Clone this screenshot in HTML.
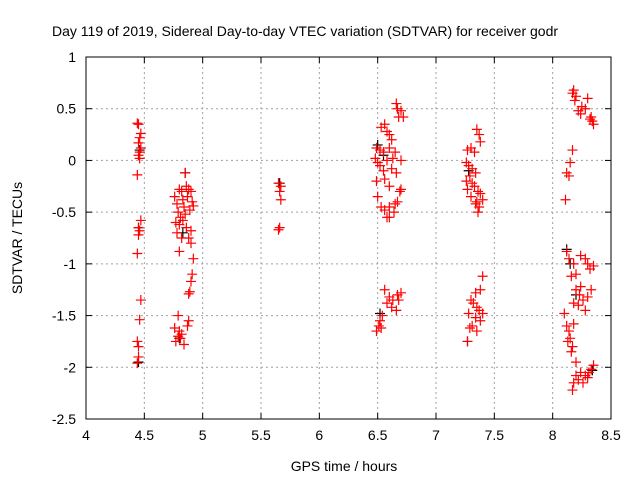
<!DOCTYPE html>
<html><head><meta charset="utf-8"><style>
body{margin:0;background:#fff}
svg text{font-family:"Liberation Sans",sans-serif;font-size:14px;fill:#000}
</style></head><body>
<svg id="chart" width="640" height="480">
<rect width="640" height="480" fill="#fff"/>
<text x="52" y="36">Day 119 of 2019, Sidereal Day-to-day VTEC variation (SDTVAR) for receiver godr</text>
<text x="344" y="471" text-anchor="middle">GPS time / hours</text>
<text transform="translate(22,238) rotate(-90)" text-anchor="middle">SDTVAR / TECUs</text>
<g id="grid"></g><g id="ticks"></g><g id="marks"></g>
<rect x="86" y="57" width="525" height="362" fill="none" stroke="#000" stroke-width="1"/>
</svg>
<script>
const xTicks=[4,4.5,5,5.5,6,6.5,7,7.5,8,8.5];
const yTicks=[1,0.5,0,-0.5,-1,-1.5,-2,-2.5];
const redX=[4.44,4.45,4.47,4.46,4.45,4.47,4.46,4.45,4.46,4.44,4.47,4.45,4.46,4.45,4.44,4.47,4.46,4.44,4.45,4.44,4.45,
4.85,4.8,4.76,4.82,4.86,4.88,4.9,4.87,4.91,4.78,4.83,4.79,4.81,4.84,4.89,4.85,4.92,4.77,4.8,4.83,4.86,4.9,4.78,4.82,4.88,4.9,4.8,4.92,4.91,4.9,4.89,4.88,4.79,4.88,4.87,4.76,4.8,4.82,4.79,4.77,4.84,4.81,
5.65,5.67,5.66,5.67,5.66,5.65,
6.66,6.67,6.7,6.68,6.72,6.56,6.53,6.58,6.6,6.62,6.49,6.52,6.55,6.6,6.65,6.48,6.5,6.58,6.63,6.7,6.52,6.55,6.62,6.66,6.49,6.56,6.6,6.7,6.69,6.5,6.53,6.56,6.6,6.65,6.58,6.6,6.64,6.67,
6.56,6.6,6.63,6.67,6.7,6.58,6.62,6.66,6.54,6.52,6.51,6.49,6.53,6.68,
7.35,7.37,7.38,7.3,7.27,7.33,7.26,7.28,7.31,7.34,7.29,7.26,7.31,7.33,7.27,7.36,7.38,7.3,7.35,7.37,7.34,7.36,7.4,
7.4,7.38,7.34,7.3,7.32,7.35,7.37,7.28,7.34,7.38,7.31,7.29,7.35,7.27,7.4,
8.18,8.17,8.2,8.19,8.3,8.25,8.28,8.22,8.24,8.32,8.34,8.35,8.33,
8.17,8.15,8.12,8.14,8.11,
8.12,8.14,8.18,8.2,8.24,8.28,8.3,8.32,8.35,8.16,8.2,8.23,8.26,8.22,8.3,8.33,8.28,8.24,8.18,
8.1,8.12,8.14,8.15,8.17,8.13,8.16,8.18,
8.2,8.24,8.28,8.3,8.33,8.35,8.22,8.18,8.17,8.26,8.31,8.2];
const redY=[0.36,0.35,0.26,0.22,0.17,0.12,0.08,0.05,0.02,-0.14,-0.58,-0.65,-0.68,-0.72,-0.9,-1.35,-1.54,-1.75,-1.8,-1.96,-1.9,
-0.12,-0.28,-0.35,-0.3,-0.25,-0.28,-0.3,-0.35,-0.4,-0.42,-0.38,-0.5,-0.55,-0.45,-0.48,-0.52,-0.44,-0.6,-0.62,-0.58,-0.65,-0.68,-0.7,-0.75,-0.75,-0.8,-0.88,-0.95,-1.1,-1.17,-1.27,-1.29,-1.5,-1.55,-1.6,-1.62,-1.65,-1.68,-1.7,-1.75,-1.78,-1.72,
-0.22,-0.25,-0.3,-0.38,-0.65,-0.67,
0.55,0.5,0.48,0.42,0.42,0.35,0.32,0.28,0.25,0.2,0.12,0.1,0.08,0.12,0.08,0.02,-0.02,0,0.02,0,-0.05,-0.1,-0.08,-0.12,-0.2,-0.18,-0.25,-0.28,-0.3,-0.35,-0.45,-0.48,-0.45,-0.42,-0.55,-0.55,-0.5,-0.4,
-1.25,-1.32,-1.35,-1.3,-1.28,-1.38,-1.42,-1.45,-1.5,-1.55,-1.6,-1.65,-1.62,-1.35,
0.3,0.25,0.18,0.12,0.1,0.08,-0.02,-0.05,-0.08,-0.12,-0.15,-0.2,-0.22,-0.25,-0.28,-0.3,-0.32,-0.35,-0.4,-0.45,-0.42,-0.5,-0.38,
-1.12,-1.25,-1.28,-1.35,-1.38,-1.42,-1.45,-1.48,-1.52,-1.55,-1.6,-1.62,-1.65,-1.75,-1.48,
0.68,0.65,0.62,0.58,0.6,0.52,0.5,0.48,0.45,0.4,0.38,0.35,0.42,
0.1,-0.02,-0.12,-0.15,-0.38,
-0.88,-0.95,-1,-1.1,-0.92,-0.95,-1,-1.05,-1.02,-1.12,-1.25,-1.3,-1.35,-1.4,-1.32,-1.25,-1.45,-1.22,-1.38,
-1.48,-1.6,-1.65,-1.72,-1.8,-1.75,-1.85,-1.58,
-1.95,-2.05,-2.08,-2.1,-2.02,-1.98,-2.12,-2.15,-2.22,-2.15,-2.05,-2.08];
const blackX=[4.46,4.45,4.45,4.85,4.83,4.8,5.66,6.5,6.52,6.55,7.27,7.28,8.12,8.15,8.34,8.2];
const blackY=[0.1,-0.65,-1.95,-0.12,-0.7,-1.72,-0.22,0.15,-1.48,0.05,-1.75,-0.1,-0.86,-1.0,-2.03,-1.3];

const L=86,R=611,T=57,B=419;
const sx=v=>L+(v-4)/(8.5-4)*(R-L);
const sy=v=>T+(1-v)/(1-(-2.5))*(B-T);
const NS='http://www.w3.org/2000/svg';
function mk(tag,attrs,parent){const e=document.createElementNS(NS,tag);for(const k in attrs)e.setAttribute(k,attrs[k]);parent.appendChild(e);return e;}
const grid=document.getElementById('grid'),ticks=document.getElementById('ticks'),marks=document.getElementById('marks');
xTicks.forEach(t=>{const x=sx(t);
 if(t>4&&t<8.5){const g=mk('line',{x1:x,x2:x,y1:T,y2:B,stroke:'#a0a0a0','stroke-dasharray':'2,3'},grid);
 
 }
 mk('line',{x1:x,x2:x,y1:B,y2:B-6,stroke:'#000'},ticks);mk('line',{x1:x,x2:x,y1:T,y2:T+6,stroke:'#000'},ticks);
 const tx=mk('text',{x:x,y:B+21,'text-anchor':'middle'},ticks);tx.textContent=String(t);
 
 });
yTicks.forEach(t=>{const y=sy(t);
 if(t<1&&t>-2.5){const g=mk('line',{x1:L,x2:R,y1:y,y2:y,stroke:'#a0a0a0','stroke-dasharray':'2,3'},grid);
 
 }
 mk('line',{x1:L,x2:L+6,y1:y,y2:y,stroke:'#000'},ticks);mk('line',{x1:R,x2:R-6,y1:y,y2:y,stroke:'#000'},ticks);
 const tx=mk('text',{x:L-10,y:y+5,'text-anchor':'end'},ticks);tx.textContent=String(t);
 
 });
function plus(x,y,col,name){const g=mk('path',{d:`M${x-5},${y}h10M${x},${y-5}v10`,stroke:col,'stroke-width':1.2,fill:'none'},marks);
 
 }
blackX.forEach((v,i)=>plus(sx(v),sy(blackY[i]),'#000','black-point'));
redX.forEach((v,i)=>plus(sx(v),sy(redY[i]),'#ff0000','red-point'));
</script>
</body></html>
